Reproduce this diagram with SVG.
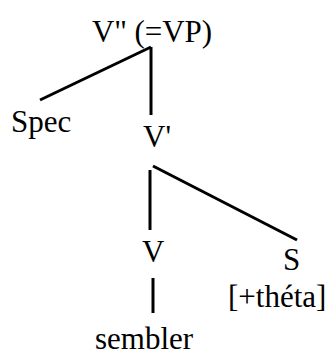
<svg xmlns="http://www.w3.org/2000/svg" width="330" height="352" viewBox="0 0 330 352">
<style>
.t{font-family:'Liberation Serif','Times New Roman',serif;font-size:31px;fill:#000}
.e{stroke:#000;stroke-width:3;fill:none}
</style>
<rect width="330" height="352" fill="#fff"/>
<g id="connectors">
<line class="e" x1="151" y1="47" x2="40" y2="100"/>
<line class="e" x1="151" y1="47" x2="151" y2="115"/>
<line class="e" x1="153" y1="166" x2="297" y2="240"/>
<line class="e" x1="150" y1="170" x2="150" y2="230"/>
<line class="e" x1="153" y1="278" x2="153" y2="313"/>
</g>
<g id="vp"><text class="t" x="92" y="42" textLength="120">V" (=VP)</text></g>
<g id="spec"><text class="t" x="11" y="132">Spec</text></g>
<g id="vbar"><text class="t" x="143" y="147">V'</text></g>
<g id="v"><text class="t" x="142" y="262">V</text></g>
<g id="s"><text class="t" x="283" y="270">S</text><text class="t" x="228" y="307">[+théta]</text></g>
<g id="sembler"><text class="t" x="95" y="348.5">sembler</text></g>
</svg>
